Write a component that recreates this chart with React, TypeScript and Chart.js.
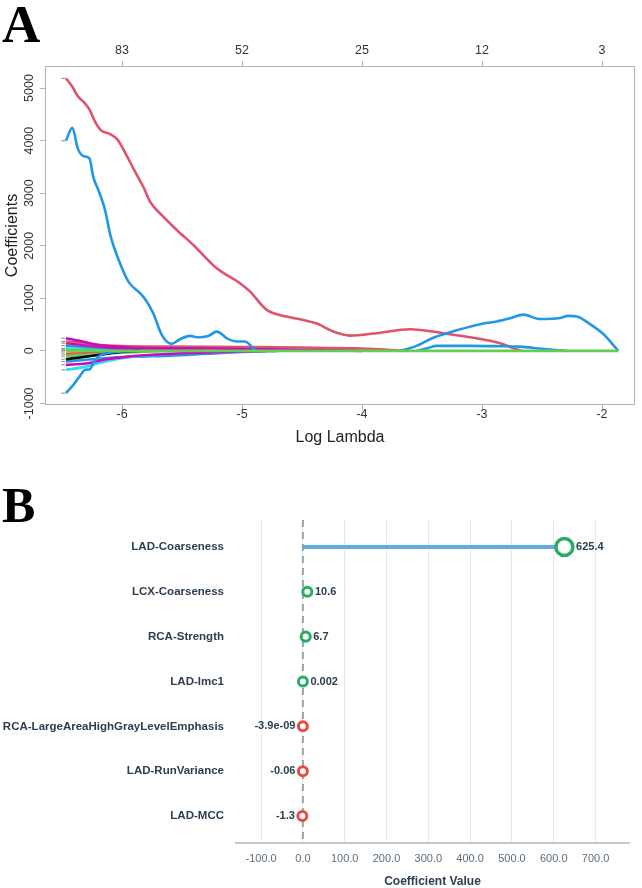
import React, { useEffect, useRef } from 'react';
import { Chart, registerables } from 'chart.js';

Chart.register(...registerables);

// ---------- Panel A: LASSO coefficient paths vs log(lambda) ----------
const logLambdaTicks = [-6, -5, -4, -3, -2];
const dfLabels = ['83', '52', '25', '12', '3'];
const coefTicks = [-1000, 0, 1000, 2000, 3000, 4000, 5000];

type Pt = [number, number];

const pathRedLarge: Pt[] = [
  [-6.467, 5185], [-6.414, 5025], [-6.365, 4835], [-6.322, 4740], [-6.272, 4595],
  [-6.225, 4360], [-6.178, 4200], [-6.1, 4125], [-6.039, 4025], [-5.989, 3835],
  [-5.906, 3473], [-5.817, 3093], [-5.767, 2838], [-5.656, 2553], [-5.544, 2300],
  [-5.406, 2015], [-5.211, 1572], [-5.017, 1287], [-4.933, 1127], [-4.794, 779],
  [-4.628, 652], [-4.517, 600], [-4.378, 520], [-4.35, 494], [-4.239, 367],
  [-4.1, 290], [-3.878, 336], [-3.6, 412], [-3.322, 336], [-2.989, 215],
  [-2.85, 146], [-2.739, 51], [-2.669, 0],
];
const pathBlueLarge: Pt[] = [
  [-6.467, 4000], [-6.414, 4245], [-6.369, 3853], [-6.322, 3707], [-6.272, 3663],
  [-6.239, 3300], [-6.197, 3061], [-6.142, 2681], [-6.094, 2173], [-6.017, 1667],
  [-5.947, 1318], [-5.85, 1097], [-5.8, 960], [-5.74, 717], [-5.669, 304],
  [-5.586, 133], [-5.517, 222], [-5.433, 285], [-5.378, 260], [-5.281, 285],
  [-5.211, 367], [-5.114, 222], [-5.044, 177], [-4.975, 177], [-4.933, 114],
  [-4.9, 32], [-4.88, 0],
];
const pathBlueLate: Pt[] = [
  [-3.683, 0], [-3.55, 90], [-3.406, 250], [-3.211, 390], [-2.989, 520],
  [-2.878, 560], [-2.767, 620], [-2.656, 690], [-2.517, 605], [-2.35, 625],
  [-2.281, 665], [-2.211, 655], [-2.1, 510], [-1.989, 320], [-1.864, 0],
];
const pathBlueSmall: Pt[] = [
  [-3.544, 0], [-3.45, 55], [-3.378, 95], [-3.1, 95], [-2.85, 88],
  [-2.683, 80], [-2.5, 40], [-2.294, 0],
];
const pathBlueDeep: Pt[] = [
  [-6.467, -805], [-6.406, -646], [-6.35, -475], [-6.308, -361], [-6.267, -348],
  [-6.239, -234], [-6.197, -108], [-6.128, -44], [-6.0, -10], [-5.9, 0],
];
const pathMagentaTop: Pt[] = [
  [-6.467, 241], [-6.33, 180], [-6.2, 110], [-6.0, 75], [-5.8, 55],
  [-5.3, 45], [-4.8, 30], [-4.3, 12], [-4.0, 0],
];
const pathRedPos: Pt[] = [
  [-6.467, 177], [-6.35, 160], [-6.2, 115], [-6.0, 90], [-5.6, 80],
  [-5.0, 72], [-4.5, 63], [-4.0, 45], [-3.75, 15], [-3.65, 0],
];
const pathMagentaMid: Pt[] = [
  [-6.467, 146], [-6.3, 110], [-6.1, 60], [-5.9, 30], [-5.6, 10], [-5.3, 0],
];
const pathBluePos: Pt[] = [
  [-6.467, 100], [-6.2, 60], [-6.0, 30], [-5.7, 10], [-5.4, 0],
];
const pathCyanPos: Pt[] = [
  [-6.467, 45], [-6.2, 25], [-5.9, 8], [-5.6, 0],
];
const pathGray: Pt[] = [
  [-6.467, 20], [-6.1, 5], [-5.9, 0],
];
const pathYellowNeg: Pt[] = [
  [-6.467, -20], [-6.2, -8], [-6.0, 0],
];
const pathRedNeg: Pt[] = [
  [-6.467, -60], [-6.2, -35], [-5.9, -10], [-5.7, 0],
];
const pathGreenNeg: Pt[] = [
  [-6.467, -100], [-6.2, -60], [-5.9, -25], [-5.6, 0],
];
const pathBlackNeg: Pt[] = [
  [-6.467, -158], [-6.35, -125], [-6.2, -80], [-6.05, -30], [-5.95, -5], [-5.85, 0],
];
const pathBlueNeg: Pt[] = [
  [-6.467, -203], [-6.35, -180], [-6.15, -140], [-5.9, -110], [-5.6, -90],
  [-5.3, -55], [-5.0, -20], [-4.7, 0],
];
const pathMagentaNeg: Pt[] = [
  [-6.467, -266], [-6.3, -240], [-6.13, -160], [-5.95, -110], [-5.7, -70],
  [-5.4, -40], [-5.1, -15], [-4.8, 0],
];
const pathCyanNeg: Pt[] = [
  [-6.467, -361], [-6.3, -300], [-6.2, -234], [-6.0, -139], [-5.72, -76],
  [-5.4, -40], [-5.1, -15], [-4.8, 0],
];
const pathGreenZero: Pt[] = [
  [-6.467, 10], [-6.2, 5], [-6.0, 0], [-1.864, 0],
];

// R's default palette
const R_BLACK = '#000000';
const R_RED = '#DF536B';
const R_GREEN = '#61D04F';
const R_BLUE = '#2297E6';
const R_CYAN = '#28E2E5';
const R_MAGENTA = '#CD0BBC';
const R_YELLOW = '#F5C710';
const R_GRAY = '#9E9E9E';

// back-to-front drawing order
const panelAPaths: { pts: Pt[]; color: string }[] = [
  { pts: pathYellowNeg, color: R_YELLOW },
  { pts: pathGray, color: R_GRAY },
  { pts: pathRedNeg, color: R_RED },
  { pts: pathGreenNeg, color: R_GREEN },
  { pts: pathCyanPos, color: R_CYAN },
  { pts: pathBluePos, color: R_BLUE },
  { pts: pathBlueNeg, color: R_BLUE },
  { pts: pathCyanNeg, color: R_CYAN },
  { pts: pathMagentaNeg, color: R_MAGENTA },
  { pts: pathMagentaMid, color: R_MAGENTA },
  { pts: pathRedPos, color: R_RED },
  { pts: pathMagentaTop, color: R_MAGENTA },
  { pts: pathBlackNeg, color: R_BLACK },
  { pts: pathBlueDeep, color: R_BLUE },
  { pts: pathBlueLarge, color: R_BLUE },
  { pts: pathRedLarge, color: R_RED },
  { pts: pathBlueLate, color: R_BLUE },
  { pts: pathBlueSmall, color: R_BLUE },
  { pts: pathGreenZero, color: R_GREEN },
];

// ---------- Panel B: selected features and their coefficients ----------
const featureNames = [
  'LAD-Coarseness',
  'LCX-Coarseness',
  'RCA-Strength',
  'LAD-Imc1',
  'RCA-LargeAreaHighGrayLevelEmphasis',
  'LAD-RunVariance',
  'LAD-MCC',
];
const coefValues = [625.4, 10.6, 6.7, 0.002, -3.9e-9, -0.06, -1.3];
const coefAxisTicks = [-100, 0, 100, 200, 300, 400, 500, 600, 700];

const SANS = '"Liberation Sans", Arial, Helvetica, sans-serif';
const SERIF = '"Liberation Serif", "Times New Roman", serif';

const fmtCoef = (v: number) => {
  const a = Math.abs(v);
  if (a > 0 && a < 1e-4) {
    return v.toExponential(1).replace(/e([+-])(\d)$/, (_m, s, d) => `e${s}0${d}`);
  }
  return String(v);
};

const panelAPlugin = {
  id: 'pathFrame',
  afterDraw(chart: any) {
    const { ctx, chartArea: a } = chart;
    const ys = chart.scales.y;
    ctx.save();
    ctx.strokeStyle = '#b3b3b3';
    ctx.lineWidth = 1;
    ctx.strokeRect(a.left + 0.5, a.top + 0.5, a.right - a.left - 1, a.bottom - a.top - 1);
    ctx.fillStyle = '#333';
    ctx.font = `12.5px ${SANS}`;
    ctx.textAlign = 'center';
    ctx.textBaseline = 'middle';
    coefTicks.forEach((v) => {
      const py = ys.getPixelForValue(v);
      ctx.save();
      ctx.translate(a.left - 15, py);
      ctx.rotate(-Math.PI / 2);
      ctx.fillText(String(v), 0, 0);
      ctx.restore();
    });
    ctx.fillStyle = '#000';
    ctx.font = `bold 53px ${SERIF}`;
    ctx.textAlign = 'left';
    ctx.textBaseline = 'alphabetic';
    ctx.fillText('A', 2, 42);
    ctx.restore();
  },
};

const panelBPlugin = {
  id: 'lollipopExtras',
  beforeDatasetsDraw(chart: any) {
    const { ctx, chartArea: a } = chart;
    const x0 = chart.scales.x.getPixelForValue(0);
    ctx.save();
    ctx.strokeStyle = '#95a5a6';
    ctx.lineWidth = 2;
    ctx.setLineDash([7, 5]);
    ctx.beginPath();
    ctx.moveTo(x0, a.top);
    ctx.lineTo(x0, a.bottom);
    ctx.stroke();
    ctx.restore();
  },
  afterDraw(chart: any) {
    const { ctx } = chart;
    const meta = chart.getDatasetMeta(0);
    ctx.save();
    ctx.fillStyle = '#2c3e50';
    ctx.font = `bold 11px ${SANS}`;
    ctx.textBaseline = 'middle';
    meta.data.forEach((el: any, i: number) => {
      const v = coefValues[i];
      const r = el.options.radius + el.options.borderWidth / 2;
      if (v >= 0) {
        ctx.textAlign = 'left';
        ctx.fillText(fmtCoef(v), el.x + r + 1.5, el.y);
      } else {
        ctx.textAlign = 'right';
        ctx.fillText(fmtCoef(v), el.x - r - 1.5, el.y);
      }
    });
    ctx.fillStyle = '#000';
    ctx.font = `bold 50px ${SERIF}`;
    ctx.textAlign = 'left';
    ctx.textBaseline = 'alphabetic';
    ctx.fillText('B', 2, 52);
    ctx.restore();
  },
};

export default function App() {
  const refA = useRef<HTMLCanvasElement | null>(null);
  const refB = useRef<HTMLCanvasElement | null>(null);

  useEffect(() => {
    const pathSets = panelAPaths.map((p) => ({
      data: p.pts.map(([x, y]) => ({ x, y })),
      showLine: true,
      borderColor: p.color,
      borderWidth: 2.6,
      pointRadius: 0,
      cubicInterpolationMode: 'monotone' as const,
      xAxisID: 'x',
      yAxisID: 'y',
    }));
    const startMarks = {
      data: panelAPaths
        .filter((p) => p.pts[0][0] < -6.4)
        .map((p) => ({ x: -6.49, y: p.pts[0][1] })),
      showLine: false,
      pointStyle: 'line' as const,
      pointRadius: 2,
      borderColor: '#999',
      borderWidth: 1.2,
      xAxisID: 'x',
      yAxisID: 'y',
    };
    // Chart.js paints dataset 0 last (on top), so reverse the back-to-front list
    const datasetsA: any[] = [...pathSets].reverse();
    datasetsA.push(startMarks);

    const tickGrid = {
      drawOnChartArea: false,
      drawTicks: true,
      tickLength: 5,
      tickColor: '#b3b3b3',
      color: '#b3b3b3',
    };

    const chartA = new Chart(refA.current as HTMLCanvasElement, {
      type: 'scatter',
      data: { datasets: datasetsA },
      plugins: [panelAPlugin],
      options: {
        responsive: false,
        animation: false,
        devicePixelRatio: 1,
        layout: { padding: { left: 0, right: 7, top: 0, bottom: 0 } },
        plugins: { legend: { display: false }, tooltip: { enabled: false } },
        scales: {
          x: {
            type: 'linear',
            position: 'bottom',
            min: -6.642,
            max: -1.725,
            afterBuildTicks: (s: any) => {
              s.ticks = logLambdaTicks.map((v) => ({ value: v }));
            },
            afterFit: (s: any) => {
              s.height = 65;
            },
            grid: tickGrid,
            border: { display: false },
            ticks: {
              padding: -3,
              color: '#333',
              font: { family: SANS, size: 12.5 },
              callback: (v: any) => String(v),
            },
            title: {
              display: true,
              text: 'Log Lambda',
              color: '#222',
              font: { family: SANS, size: 16 },
              padding: { top: 0, bottom: 23 },
            },
          },
          xTop: {
            type: 'linear',
            position: 'top',
            min: -6.642,
            max: -1.725,
            afterBuildTicks: (s: any) => {
              s.ticks = logLambdaTicks.map((v) => ({ value: v }));
            },
            afterFit: (s: any) => {
              s.height = 66;
            },
            grid: tickGrid,
            border: { display: false },
            ticks: {
              padding: 2.5,
              color: '#333',
              font: { family: SANS, size: 12.5 },
              callback: (v: any) => dfLabels[logLambdaTicks.indexOf(Number(v))] ?? '',
            },
          },
          y: {
            type: 'linear',
            position: 'left',
            min: -1030,
            max: 5420,
            afterBuildTicks: (s: any) => {
              s.ticks = coefTicks.map((v) => ({ value: v }));
            },
            afterFit: (s: any) => {
              s.width = 45;
            },
            grid: tickGrid,
            border: { display: false },
            ticks: { display: false },
            title: {
              display: true,
              text: 'Coefficients',
              color: '#222',
              font: { family: SANS, size: 16 },
              padding: { top: 3, bottom: 0 },
            },
          },
        },
      } as any,
    });

    const maxAbs = Math.max(...coefValues.map((v) => Math.abs(v)));
    const markerSet = {
      data: coefValues.map((v, i) => ({ x: v, y: i })),
      showLine: false,
      pointStyle: 'circle' as const,
      pointRadius: coefValues.map((v) => 4.5 + 4 * (Math.abs(v) / maxAbs)),
      pointBorderWidth: coefValues.map((v) => (Math.abs(v) / maxAbs > 0.5 ? 3.5 : 3)),
      pointBackgroundColor: '#ffffff',
      pointBorderColor: coefValues.map((v) => (v >= 0 ? '#27ae60' : '#e74c3c')),
    };
    const stemSets = coefValues.map((v, i) => ({
      data: [
        { x: 0, y: i },
        { x: v, y: i },
      ],
      showLine: true,
      borderColor: '#5dade2',
      borderWidth: 4,
      borderCapStyle: 'butt' as const,
      pointRadius: 0,
    }));

    const chartB = new Chart(refB.current as HTMLCanvasElement, {
      type: 'scatter',
      data: { datasets: [markerSet, ...stemSets] as any[] },
      plugins: [panelBPlugin],
      options: {
        responsive: false,
        animation: false,
        devicePixelRatio: 1,
        layout: { padding: { left: 0, right: 13, top: 50, bottom: 0 } },
        plugins: { legend: { display: false }, tooltip: { enabled: false } },
        scales: {
          x: {
            type: 'linear',
            min: -160,
            max: 780,
            afterBuildTicks: (s: any) => {
              s.ticks = coefAxisTicks.map((v) => ({ value: v }));
            },
            afterFit: (s: any) => {
              s.height = 45;
            },
            grid: { color: '#e6e9ed', lineWidth: 1, drawTicks: false },
            border: { display: true, color: '#c3c7cb', width: 2 },
            ticks: {
              padding: 9,
              color: '#5d6d7e',
              font: { family: SANS, size: 11 },
              callback: (v: any) => Number(v).toFixed(1),
            },
            title: {
              display: true,
              text: 'Coefficient Value',
              color: '#2c3e50',
              font: { family: SANS, size: 12, weight: 'bold' },
              padding: { top: 0, bottom: -1 },
            },
          },
          y: {
            type: 'linear',
            reverse: true,
            min: -0.6,
            max: 6.6,
            afterBuildTicks: (s: any) => {
              s.ticks = featureNames.map((_n, i) => ({ value: i }));
            },
            afterFit: (s: any) => {
              s.width = 236;
            },
            grid: { display: false, drawTicks: false },
            border: { display: false },
            ticks: {
              padding: 12,
              color: '#2c3e50',
              font: { family: SANS, size: 11.5, weight: 'bold' },
              callback: (v: any) => featureNames[Number(v)] ?? '',
            },
          },
        },
      } as any,
    });

    return () => {
      chartA.destroy();
      chartB.destroy();
    };
  }, []);

  return (
    <div
      style={{
        position: 'fixed',
        left: 0,
        top: 0,
        width: 642,
        height: 888,
        background: '#ffffff',
        overflow: 'hidden',
      }}
    >
      <canvas
        ref={refA}
        width={642}
        height={470}
        style={{ position: 'absolute', left: 0, top: 0, display: 'block' }}
      />
      <canvas
        ref={refB}
        width={642}
        height={418}
        style={{ position: 'absolute', left: 0, top: 470, display: 'block' }}
      />
    </div>
  );
}
